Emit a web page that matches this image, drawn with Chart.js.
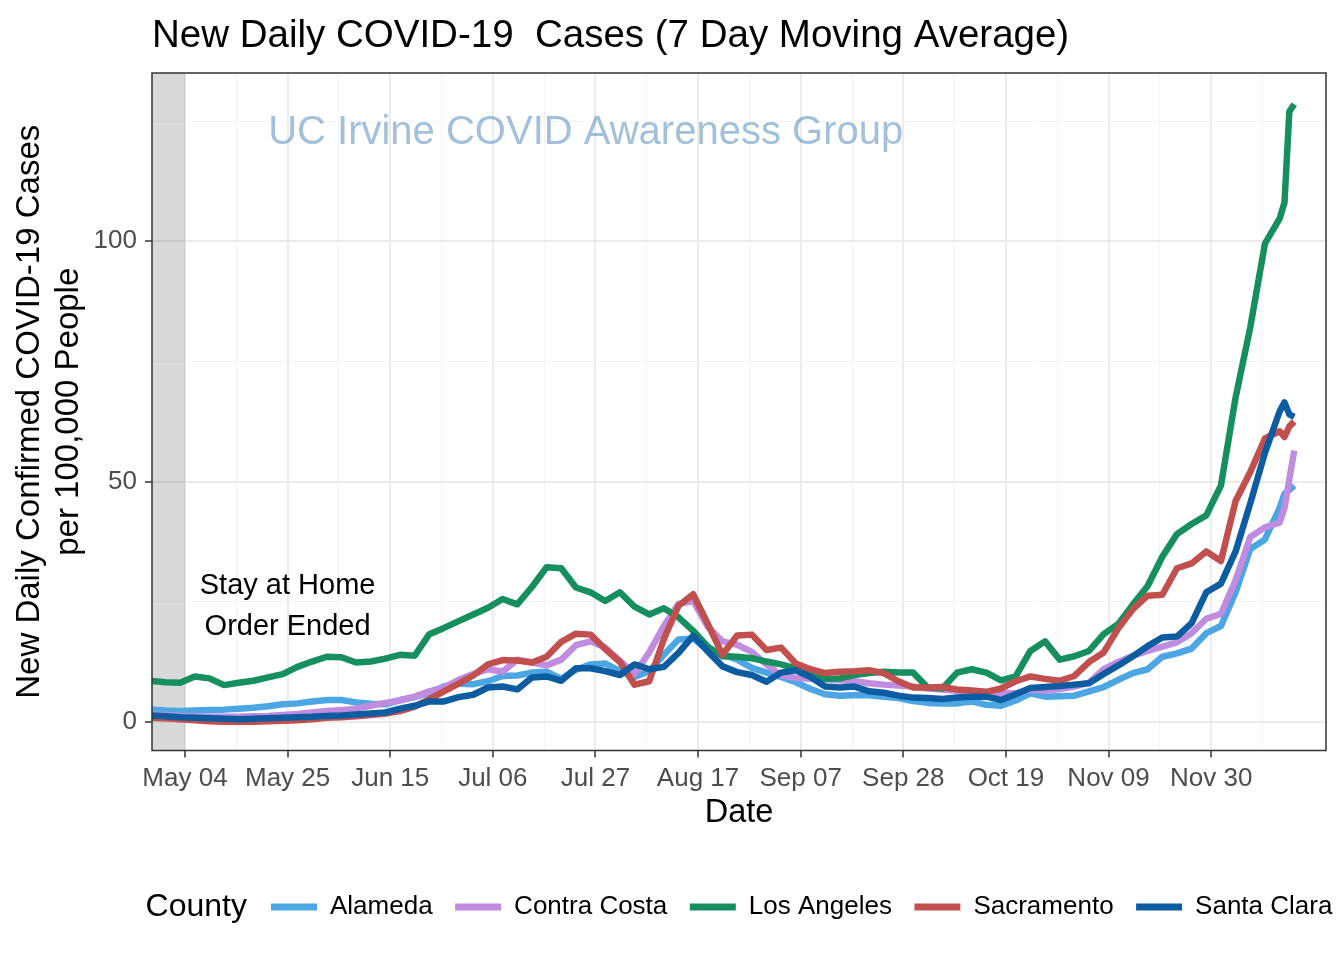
<!DOCTYPE html>
<html>
<head>
<meta charset="utf-8">
<title>New Daily COVID-19 Cases</title>
<script src="https://cdn.jsdelivr.net/npm/chart.js@4.4.1/dist/chart.umd.min.js"></script>
<style>
  html, body { margin: 0; padding: 0; background: #fff; }
  #wrap { width: 1344px; height: 960px; }
</style>
</head>
<body>
<div id="wrap"><canvas id="casesChart" width="1344" height="960"></canvas></div>
<script>
const dates = [
  '2020-04-27', '2020-04-30', '2020-05-03', '2020-05-06', '2020-05-09', '2020-05-12', '2020-05-15', '2020-05-18',
  '2020-05-21', '2020-05-24', '2020-05-27', '2020-05-30', '2020-06-02', '2020-06-05', '2020-06-08', '2020-06-11',
  '2020-06-14', '2020-06-17', '2020-06-20', '2020-06-23', '2020-06-26', '2020-06-29', '2020-07-02', '2020-07-05',
  '2020-07-08', '2020-07-11', '2020-07-14', '2020-07-17', '2020-07-20', '2020-07-23', '2020-07-26', '2020-07-29',
  '2020-08-01', '2020-08-04', '2020-08-07', '2020-08-10', '2020-08-13', '2020-08-16', '2020-08-19', '2020-08-22',
  '2020-08-25', '2020-08-28', '2020-08-31', '2020-09-03', '2020-09-06', '2020-09-09', '2020-09-12', '2020-09-15',
  '2020-09-18', '2020-09-21', '2020-09-24', '2020-09-27', '2020-09-30', '2020-10-03', '2020-10-06', '2020-10-09',
  '2020-10-12', '2020-10-15', '2020-10-18', '2020-10-21', '2020-10-24', '2020-10-27', '2020-10-30', '2020-11-02',
  '2020-11-05', '2020-11-08', '2020-11-11', '2020-11-14', '2020-11-17', '2020-11-20', '2020-11-23', '2020-11-26',
  '2020-11-29', '2020-12-02', '2020-12-05', '2020-12-08', '2020-12-11', '2020-12-14', '2020-12-15', '2020-12-16',
  '2020-12-17'
];

const alameda = [
  2.6, 2.4, 2.3, 2.4, 2.5, 2.6, 2.8, 3.0, 3.3, 3.7, 3.9, 4.3, 4.6, 4.6, 4.1, 3.8,
  3.7, 4.6, 5.2, 6.2, 7.4, 8.0, 7.9, 8.5, 9.6, 9.7, 10.3, 10.5, 9.0, 10.9, 12.0, 12.2,
  10.6, 9.4, 10.6, 14.0, 17.2, 17.4, 15.0, 14.2, 13.0, 11.3, 10.3, 9.4, 8.3, 6.9, 5.8, 5.5,
  5.6, 5.6, 5.3, 5.0, 4.4, 4.0, 3.9, 3.9, 4.3, 3.6, 3.4, 4.5, 6.0, 5.3, 5.4, 5.5,
  6.4, 7.3, 8.8, 10.2, 11.0, 13.6, 14.3, 15.3, 18.5, 20.0, 27.0, 36.0, 38.0, 44.5, 47.5, 48.3,
  49.2
];
const contraCosta = [
  1.6, 1.5, 1.3, 1.2, 1.1, 1.1, 1.1, 1.2, 1.3, 1.5, 1.7, 2.0, 2.3, 2.5, 2.8, 3.4,
  4.0, 4.5, 5.3, 6.4, 7.2, 8.8, 10.0, 11.0, 10.5, 13.0, 12.4, 11.8, 13.0, 16.0, 16.8, 15.5,
  12.8, 10.0, 14.5, 20.0, 24.6, 25.2, 19.8, 16.8, 16.1, 14.6, 12.0, 9.7, 9.2, 9.0, 8.9, 8.7,
  8.5, 8.1, 7.8, 7.6, 7.4, 7.0, 6.8, 6.5, 6.4, 6.2, 6.0, 6.0, 6.8, 6.5, 6.9, 7.4,
  8.2, 11.0, 12.5, 13.8, 14.8, 15.7, 16.6, 18.5, 21.5, 22.5, 29.5, 38.5, 40.5, 41.5, 44.5, 50.5,
  56.5
];
const losAngeles = [
  8.6, 8.3, 8.2, 9.5, 9.1, 7.7, 8.2, 8.6, 9.3, 10.0, 11.5, 12.6, 13.6, 13.5, 12.4, 12.6,
  13.2, 14.0, 13.8, 18.3, 19.6, 21.0, 22.4, 23.8, 25.6, 24.5, 28.1, 32.2, 32.0, 28.0, 27.0, 25.2,
  27.0, 24.0, 22.4, 23.7, 21.8, 19.0, 15.7, 13.7, 13.6, 13.3, 12.6, 12.0, 11.2, 10.0, 9.0, 9.1,
  9.8, 10.2, 10.5, 10.3, 10.3, 7.2, 7.0, 10.3, 11.0, 10.3, 8.7, 9.5, 14.8, 16.8, 13.0, 13.7,
  14.8, 18.3, 20.4, 24.5, 28.3, 34.4, 39.1, 41.2, 43.0, 49.2, 67.5, 82.1, 99.5, 104.7, 108.0, 127.0,
  128.5
];
const sacramento = [
  0.9, 0.8, 0.6, 0.4, 0.2, 0.1, 0.1, 0.1, 0.2, 0.3, 0.4, 0.6, 0.9, 1.0, 1.2, 1.5,
  1.8, 2.3, 3.2, 4.8, 6.4, 8.0, 9.7, 12.0, 12.9, 12.8, 12.4, 13.6, 16.7, 18.4, 18.2, 15.2,
  12.5, 7.8, 8.5, 17.3, 24.2, 26.6, 20.4, 14.0, 18.0, 18.2, 15.0, 15.5, 12.2, 11.0, 10.2, 10.5,
  10.6, 10.8, 10.2, 8.5, 7.2, 7.2, 7.3, 6.8, 6.6, 6.3, 7.0, 8.5, 9.5, 9.0, 8.6, 9.6,
  12.5, 14.5, 19.5, 23.5, 26.3, 26.5, 32.0, 33.0, 35.5, 33.5, 46.0, 52.0, 59.0, 60.5, 59.3, 61.5,
  62.5
];
const santaClara = [
  1.4, 1.2, 1.0, 0.9, 0.8, 0.7, 0.6, 0.7, 0.8, 0.9, 1.0, 1.1, 1.3, 1.4, 1.6, 1.8,
  2.0, 2.8, 3.4, 4.3, 4.3, 5.2, 5.7, 7.2, 7.4, 6.8, 9.3, 9.5, 8.6, 11.2, 11.2, 10.6,
  9.8, 12.0, 11.0, 11.5, 14.4, 18.0, 14.7, 11.6, 10.4, 9.8, 8.4, 10.3, 10.8, 9.4, 7.4, 7.2,
  7.4, 6.4, 6.1, 5.5, 5.1, 5.0, 4.8, 5.1, 5.3, 5.3, 4.6, 5.8, 7.1, 7.3, 7.5, 7.8,
  8.1, 10.0, 11.8, 13.7, 15.8, 17.6, 17.8, 20.6, 27.0, 28.8, 35.5, 45.5, 56.0, 64.6, 66.5, 64.0,
  63.5
];

const counties = ['Alameda', 'Contra Costa', 'Los Angeles', 'Sacramento', 'Santa Clara'];
const colors = ['#4BA6E3', '#BF8CE0', '#168F5E', '#C14F4E', '#0B5CA1'];
const seriesValues = [alameda, contraCosta, losAngeles, sacramento, santaClara];

const tickDates = ['2020-05-04', '2020-05-25', '2020-06-15', '2020-07-06', '2020-07-27', '2020-08-17',
  '2020-09-07', '2020-09-28', '2020-10-19', '2020-11-09', '2020-11-30'];
const tickLabels = ['May 04', 'May 25', 'Jun 15', 'Jul 06', 'Jul 27', 'Aug 17',
  'Sep 07', 'Sep 28', 'Oct 19', 'Nov 09', 'Nov 30'];
const yTicks = [0, 50, 100];
const yMinor = [25, 75, 125];

const orderEnded = '2020-05-04';
const noteLines = ['Stay at Home', 'Order Ended'];
const notePos = { date: '2020-05-25', value: 24 };
const markText = 'UC Irvine COVID Awareness Group';
const markPos = { date: '2020-07-25', value: 122.5 };
const legendTitle = 'County';

const FONT = '"Liberation Sans", Arial, Helvetica, sans-serif';
Chart.defaults.font.family = FONT;
Chart.defaults.color = '#000';

// days counted from May 4
function dayOf(s) {
  return (Date.parse(s) - Date.parse('2020-05-04')) / 864e5;
}

const xDays = dates.map(dayOf);
const tickDays = tickDates.map(dayOf);
const xMinor = tickDays.map(d => d + 10.5);
const xGrid = tickDays.concat(xMinor).sort((a, b) => a - b);
const yGrid = yTicks.concat(yMinor).sort((a, b) => a - b);

const datasets = counties.map((name, i) => ({
  label: name,
  data: xDays.map((d, j) => ({ x: d, y: seriesValues[i][j] })),
  borderColor: colors[i],
  backgroundColor: colors[i],
  borderWidth: 6.5,
  borderJoinStyle: 'round',
  pointRadius: 0,
  tension: 0,
  clip: 0,
  order: counties.length - i   // later counties drawn on top, like ggplot
}));

const isMajorX = v => tickDays.indexOf(v) >= 0;
const isMajorY = v => yTicks.indexOf(v) >= 0;

// grey band, note, watermark, border, title, legend title
const extras = {
  id: 'extras',
  afterLayout(chart) {
    const lg = chart.legend;
    if (!lg || !lg.lineWidths) return;
    const pad = lg.options.labels.padding;
    const ctx = chart.ctx;
    ctx.save();
    ctx.font = '32px ' + FONT;
    const tw = ctx.measureText(legendTitle).width;
    ctx.restore();
    const itemsW = lg.lineWidths[0] - pad;
    const total = tw + 24 + itemsW;
    const mid = (chart.chartArea.left + chart.chartArea.right) / 2;
    const start = mid - total / 2;
    lg.left = start + tw + 24 - pad;
    lg.right = lg.left + lg.lineWidths[0] + 2 * pad;
    lg._titleX = start;
  },
  beforeDatasetsDraw(chart) {
    const { ctx, chartArea, scales } = chart;
    const x1 = scales.x.getPixelForValue(dayOf(orderEnded));
    ctx.save();
    ctx.fillStyle = 'rgba(0,0,0,0.15)';
    ctx.fillRect(chartArea.left, chartArea.top, x1 - chartArea.left, chartArea.bottom - chartArea.top);
    ctx.restore();
  },
  afterDatasetsDraw(chart) {
    const { ctx, chartArea, scales } = chart;
    ctx.save();
    ctx.textAlign = 'center';
    ctx.textBaseline = 'middle';

    ctx.font = '40px ' + FONT;
    ctx.fillStyle = 'rgba(70,130,180,0.5)';
    ctx.fillText(markText, scales.x.getPixelForValue(dayOf(markPos.date)), scales.y.getPixelForValue(markPos.value));

    ctx.font = '29px ' + FONT;
    ctx.fillStyle = '#000';
    const nx = scales.x.getPixelForValue(dayOf(notePos.date));
    const ny = scales.y.getPixelForValue(notePos.value);
    ctx.fillText(noteLines[0], nx, ny - 20.5);
    ctx.fillText(noteLines[1], nx, ny + 20.5);

    ctx.strokeStyle = '#333333';
    ctx.lineWidth = 1.5;
    ctx.strokeRect(chartArea.left, chartArea.top, chartArea.right - chartArea.left, chartArea.bottom - chartArea.top);
    ctx.restore();
  },
  afterDraw(chart) {
    const { ctx, chartArea } = chart;
    ctx.save();
    ctx.fillStyle = '#000';
    ctx.textAlign = 'left';
    ctx.textBaseline = 'alphabetic';
    ctx.font = '38.5px ' + FONT;
    ctx.fillText('New Daily COVID-19  Cases (7 Day Moving Average)', chartArea.left, 47);

    const lg = chart.legend;
    if (lg && lg.legendHitBoxes && lg.legendHitBoxes.length) {
      const hb = lg.legendHitBoxes[0];
      ctx.font = '32px ' + FONT;
      ctx.textBaseline = 'middle';
      ctx.fillText(legendTitle, lg._titleX, hb.top + hb.height / 2);
    }
    ctx.restore();
  }
};

new Chart(document.getElementById('casesChart'), {
  type: 'line',
  data: { datasets: datasets },
  plugins: [extras],
  options: {
    responsive: false,
    animation: false,
    devicePixelRatio: 1,
    layout: { padding: { top: 73, right: 18, bottom: 30, left: 0 } },
    plugins: {
      title: { display: false },
      tooltip: { enabled: false },
      legend: {
        position: 'bottom',
        align: 'start',
        labels: {
          boxWidth: 46,
          boxHeight: 7,
          padding: 22.5,
          color: '#000',
          font: { size: 26 },
          generateLabels: chart => Chart.defaults.plugins.legend.labels.generateLabels(chart)
            .map(l => Object.assign(l, { lineWidth: 0 }))
            .sort((a, b) => a.datasetIndex - b.datasetIndex)
        }
      }
    },
    scales: {
      x: {
        type: 'linear',
        min: -6.75,
        max: 233.5,
        afterBuildTicks: s => { s.ticks = xGrid.map(v => ({ value: v })); },
        afterFit: s => { s.height = 121; },
        border: { display: false },
        grid: {
          color: c => c.tick && isMajorX(c.tick.value) ? '#EBEBEB' : '#F3F3F3',
          lineWidth: c => c.tick && isMajorX(c.tick.value) ? 2 : 1,
          tickColor: c => c.tick && isMajorX(c.tick.value) ? '#333333' : 'rgba(0,0,0,0)',
          tickLength: 7,
          tickWidth: 1.5
        },
        ticks: {
          autoSkip: false,
          maxRotation: 0,
          minRotation: 0,
          padding: 6,
          color: '#4D4D4D',
          font: { size: 26 },
          callback: v => { const i = tickDays.indexOf(v); return i >= 0 ? tickLabels[i] : ''; }
        },
        title: {
          display: true,
          text: 'Date',
          color: '#000',
          font: { size: 32.5 },
          padding: { top: 0, bottom: 38.5 }
        }
      },
      y: {
        type: 'linear',
        min: -5.9,
        max: 135,
        afterBuildTicks: s => { s.ticks = yGrid.map(v => ({ value: v })); },
        afterFit: s => { s.width = 152; },
        border: { display: false },
        grid: {
          color: c => c.tick && isMajorY(c.tick.value) ? '#EBEBEB' : '#F3F3F3',
          lineWidth: c => c.tick && isMajorY(c.tick.value) ? 2 : 1,
          tickColor: c => c.tick && isMajorY(c.tick.value) ? '#333333' : 'rgba(0,0,0,0)',
          tickLength: 7,
          tickWidth: 1.5
        },
        ticks: {
          padding: 8,
          color: '#4D4D4D',
          font: { size: 26 },
          callback: v => isMajorY(v) ? String(v) : ''
        },
        title: {
          display: true,
          text: ['New Daily Confirmed COVID-19 Cases', 'per 100,000 People'],
          color: '#000',
          font: { size: 33, lineHeight: 1.2 },
          padding: { top: 10, bottom: 0 }
        }
      }
    }
  }
});
</script>
</body>
</html>
